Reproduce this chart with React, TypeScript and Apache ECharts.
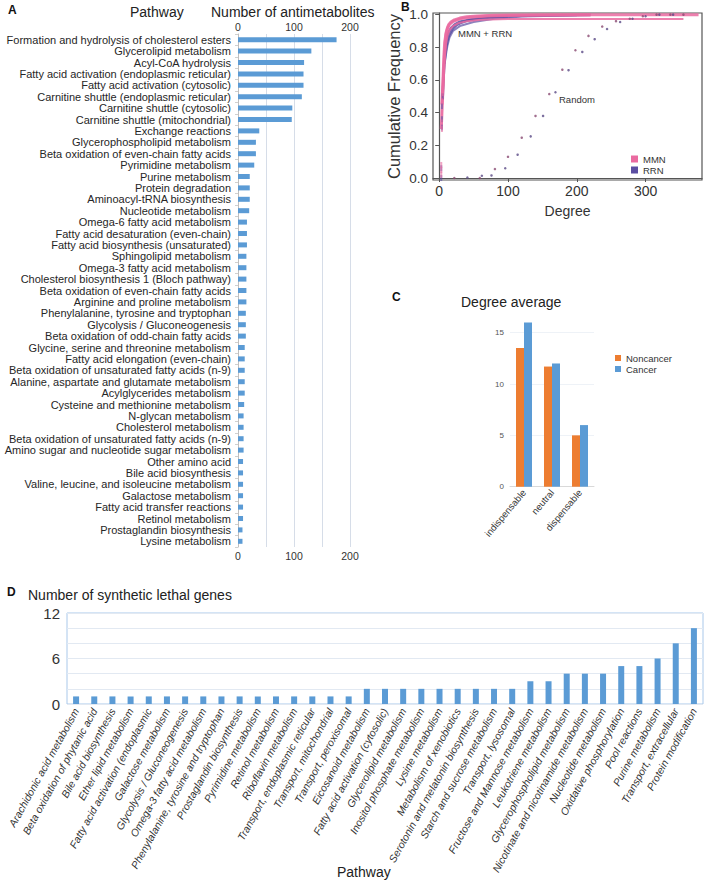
import React, { useEffect, useRef } from 'react';
import * as echarts from 'echarts';

// ---------- Panel A ----------
const aCategories = [
  'Formation and hydrolysis of cholesterol esters',
  'Glycerolipid metabolism',
  'Acyl-CoA hydrolysis',
  'Fatty acid activation (endoplasmic reticular)',
  'Fatty acid activation (cytosolic)',
  'Carnitine shuttle (endoplasmic reticular)',
  'Carnitine shuttle (cytosolic)',
  'Carnitine shuttle (mitochondrial)',
  'Exchange reactions',
  'Glycerophospholipid metabolism',
  'Beta oxidation of even-chain fatty acids',
  'Pyrimidine metabolism',
  'Purine metabolism',
  'Protein degradation',
  'Aminoacyl-tRNA biosynthesis',
  'Nucleotide metabolism',
  'Omega-6 fatty acid metabolism',
  'Fatty acid desaturation (even-chain)',
  'Fatty acid biosynthesis (unsaturated)',
  'Sphingolipid metabolism',
  'Omega-3 fatty acid metabolism',
  'Cholesterol biosynthesis 1 (Bloch pathway)',
  'Beta oxidation of even-chain fatty acids',
  'Arginine and proline metabolism',
  'Phenylalanine, tyrosine and tryptophan',
  'Glycolysis / Gluconeogenesis',
  'Beta oxidation of odd-chain fatty acids',
  'Glycine, serine and threonine metabolism',
  'Fatty acid elongation (even-chain)',
  'Beta oxidation of unsaturated fatty acids (n-9)',
  'Alanine, aspartate and glutamate metabolism',
  'Acylglycerides metabolism',
  'Cysteine and methionine metabolism',
  'N-glycan metabolism',
  'Cholesterol metabolism',
  'Beta oxidation of unsaturated fatty acids (n-9)',
  'Amino sugar and nucleotide sugar metabolism',
  'Other amino acid',
  'Bile acid biosynthesis',
  'Valine, leucine, and isoleucine metabolism',
  'Galactose metabolism',
  'Fatty acid transfer reactions',
  'Retinol metabolism',
  'Prostaglandin biosynthesis',
  'Lysine metabolism',
];
const aValues = [
  176, 131, 118, 117, 117, 114, 97, 96, 38, 32, 32, 29, 21, 21, 21, 20, 16, 16,
  16, 15, 15, 15, 15, 15, 14, 14, 14, 12, 12, 12, 12, 12, 11, 10, 10, 10, 10, 9,
  9, 9, 9, 9, 9, 8, 8,
];
const aTicks = [0, 100, 200];

// ---------- Panel B ----------
const mmn1Deg = [3, 4, 5, 6, 7, 8, 9, 10, 12, 15, 20, 30, 45, 70, 100, 150, 220, 377];
const mmn1Freq = [0.3, 0.4, 0.5, 0.6, 0.7, 0.78, 0.84, 0.88, 0.915, 0.94, 0.958, 0.974, 0.984, 0.991, 0.995, 0.998, 0.999, 1.0];
const mmn2Deg = [4, 5, 6, 7, 8, 10, 12, 14, 17, 22, 30, 40, 55, 80, 120, 220];
const mmn2Freq = [0.45, 0.55, 0.66, 0.76, 0.83, 0.89, 0.92, 0.94, 0.955, 0.968, 0.979, 0.987, 0.992, 0.996, 0.998, 1.0];
const mmn3Deg = [5, 6, 7, 8, 10, 12, 15, 20, 28, 40, 60, 100, 200, 355];
const mmn3Freq = [0.5, 0.58, 0.66, 0.73, 0.82, 0.87, 0.905, 0.93, 0.948, 0.96, 0.968, 0.973, 0.974, 0.974];
const mmnLowDeg = [3, 3, 3, 4, 4, 4, 4, 5];
const mmnLowFreq = [0.02, 0.05, 0.08, 0.3, 0.34, 0.4, 0.47, 0.52];
const rrn1Deg = [5, 6, 7, 8, 10, 12, 15, 20, 25, 30, 40, 60, 80, 110, 150, 220];
const rrn1Freq = [0.48, 0.58, 0.66, 0.72, 0.79, 0.84, 0.88, 0.915, 0.935, 0.947, 0.962, 0.977, 0.985, 0.991, 0.995, 0.998];
const rrn2Deg = [5, 6, 7, 8, 10, 13, 17, 22, 30, 45, 70, 100];
const rrn2Freq = [0.53, 0.63, 0.71, 0.77, 0.84, 0.89, 0.92, 0.94, 0.958, 0.972, 0.984, 0.99];
const rrn3Deg = [8, 10, 12, 15, 20, 30, 50, 80, 120, 200];
const rrn3Freq = [0.7, 0.76, 0.81, 0.86, 0.9, 0.93, 0.955, 0.975, 0.988, 0.996];
const rrnLowDeg = [3, 3, 4, 4, 4, 5];
const rrnLowFreq = [0.0, 0.06, 0.31, 0.36, 0.44, 0.5];
const randADeg = [22, 59, 81, 100, 120, 140, 160, 179, 198, 217, 237, 257, 277, 296, 316, 336, 355];
const randAFreq = [0.0, 0.0, 0.055, 0.13, 0.247, 0.38, 0.514, 0.663, 0.782, 0.87, 0.927, 0.96, 0.975, 0.99, 1.0, 1.0, 1.0];
const randBDeg = [41, 62, 76, 96, 114, 133, 151, 169, 188, 208, 226, 244, 263, 281, 300, 320, 340];
const randBFreq = [0.003, 0.014, 0.016, 0.06, 0.143, 0.255, 0.38, 0.525, 0.66, 0.772, 0.85, 0.912, 0.955, 0.975, 0.99, 1.0, 1.0];
const bXTicks = [0, 100, 200, 300];
const bYTicks = [0, 0.2, 0.4, 0.6, 0.8, 1.0];

// ---------- Panel C ----------
const cCategories = ['indispensable', 'neutral', 'dispensable'];
const cNoncancer = [13.5, 11.7, 5.0];
const cCancer = [16.0, 12.0, 6.0];

// ---------- Panel D ----------
const dCategories = [
  'Arachidonic acid metabolism',
  'Beta oxidation of phytanic acid',
  'Bile acid biosynthesis',
  'Ether lipid metabolism',
  'Fatty acid activation (endoplasmic',
  'Galactose metabolism',
  'Glycolysis / Gluconeogenesis',
  'Omega-3 fatty acid metabolism',
  'Phenylalanine, tyrosine and tryptophan',
  'Prostaglandin biosynthesis',
  'Pyrimidine metabolism',
  'Retinol metabolism',
  'Riboflavin metabolism',
  'Transport, endoplasmic reticular',
  'Transport, mitochondrial',
  'Transport, peroxisomal',
  'Eicosanoid metabolism',
  'Fatty acid activation (cytosolic)',
  'Glycerolipid metabolism',
  'Inositol phosphate metabolism',
  'Lysine metabolism',
  'Metabolism of xenobiotics',
  'Serotonin and melatonin biosynthesis',
  'Starch and sucrose metabolism',
  'Transport, lysosomal',
  'Fructose and Mannose metabolism',
  'Leukotriene metabolism',
  'Glycerophospholipid metabolism',
  'Nicotinate and nicotinamide metabolism',
  'Nucleotide metabolism',
  'Oxidative phosphorylation',
  'Pool reactions',
  'Purine metabolism',
  'Transport, extracellular',
  'Protein modification',
];
const dValues = [
  1, 1, 1, 1, 1, 1, 1, 1, 1, 1, 1, 1, 1, 1, 1, 1,
  2, 2, 2, 2, 2, 2, 2, 2, 2,
  3, 3, 4, 4, 4, 5, 5, 6, 8, 10,
];
const dLabelTicks = [0, 6, 12];

const zip = (xs: number[], ys: number[]) => xs.map((x, i) => [x, ys[i]]);

const FONT = '"Liberation Sans", Arial, sans-serif';
const PINK = '#ea6aa0';
const PURPLE = '#5b4ea2';
const BLUE = '#5b9bd5';
const ORANGE = '#ed7d31';

function txt(text: string, x: number, y: number, size: number, extra: any = {}) {
  return {
    type: 'text',
    x,
    y,
    silent: true,
    style: {
      text,
      fontSize: size,
      fontFamily: FONT,
      fill: '#222',
      textAlign: 'left',
      textVerticalAlign: 'middle',
      ...extra,
    },
  };
}

const lineSeries = (name: string, deg: number[], freq: number[], color: string, width: number, opacity = 0.85) => ({
  name,
  type: 'line',
  xAxisIndex: 2,
  yAxisIndex: 1,
  data: zip(deg, freq),
  showSymbol: false,
  symbol: 'none',
  lineStyle: { color, width, opacity },
  itemStyle: { color },
  z: 3,
});

const lowDots = (name: string, deg: number[], freq: number[], color: string) => ({
  name,
  type: 'scatter',
  xAxisIndex: 2,
  yAxisIndex: 1,
  data: zip(deg, freq),
  symbol: 'rect',
  symbolSize: [2, 6],
  itemStyle: { color, opacity: 0.6 },
  z: 3,
});

const option: any = {
  animation: false,
  backgroundColor: '#ffffff',
  textStyle: { fontFamily: FONT },
  grid: [
    { left: 238, top: 34, width: 112, height: 513 },
    { left: 433, top: 13, right: 6, bottom: 705, show: true, borderColor: '#555', borderWidth: 1.2 },
    { left: 510, right: 114, top: 322.4, bottom: 398.3 },
    { left: 67, right: 5, top: 613, bottom: 181, show: true, borderColor: '#a9c8ea', borderWidth: 1 },
  ],
  xAxis: [
    {
      type: 'value', gridIndex: 0, position: 'top', min: 0, max: 200, interval: 50,
      axisLine: { show: false }, axisTick: { show: false },
      axisLabel: { fontSize: 10.5, color: '#333', margin: 2, formatter: (v: number) => (aTicks.includes(v) ? String(v) : '') },
      splitLine: { show: true, lineStyle: { color: '#d6dde8', width: 1 } },
    },
    {
      type: 'value', gridIndex: 0, position: 'bottom', min: 0, max: 200, interval: 50,
      axisLine: { show: false }, axisTick: { show: false },
      axisLabel: { fontSize: 10.5, color: '#333', margin: 3, formatter: (v: number) => (aTicks.includes(v) ? String(v) : '') },
      splitLine: { show: false },
    },
    {
      type: 'value', gridIndex: 1, min: -9, max: 382,
      name: 'Degree', nameLocation: 'middle', nameGap: 24,
      nameTextStyle: { fontSize: 14, color: '#333' },
      axisLine: { show: true, lineStyle: { color: '#555', width: 1.2 } },
      axisTick: { show: true, length: 4, lineStyle: { color: '#555' }, customValues: bXTicks },
      axisLabel: { fontSize: 14, color: '#333', margin: 4, customValues: bXTicks },
      splitLine: { show: false },
    },
    {
      type: 'category', gridIndex: 2, data: cCategories,
      axisLine: { show: true, lineStyle: { color: '#d9d9d9' } },
      axisTick: { show: false },
      axisLabel: { fontSize: 9.5, color: '#333', rotate: 50, margin: 4, interval: 0 },
    },
    {
      type: 'category', gridIndex: 3, data: dCategories,
      axisLine: { show: false }, axisTick: { show: false },
      axisLabel: { fontSize: 10.5, fontStyle: 'italic', color: '#333', rotate: 61, margin: 5, interval: 0 },
    },
  ],
  yAxis: [
    {
      type: 'category', gridIndex: 0, data: aCategories, inverse: true,
      axisLine: { show: true, lineStyle: { color: '#bfbfbf' } },
      axisTick: { show: true, length: 3, lineStyle: { color: '#d0d0d0' } },
      axisLabel: { fontSize: 11, color: '#262626', margin: 7, interval: 0 },
    },
    {
      type: 'value', gridIndex: 1, min: -0.012, max: 1.01,
      name: 'Cumulative Frequency', nameLocation: 'middle', nameGap: 31,
      nameTextStyle: { fontSize: 16.5, color: '#333' },
      axisLine: { show: true, lineStyle: { color: '#555', width: 1.2 } },
      axisTick: { show: true, length: 4, lineStyle: { color: '#555' }, customValues: bYTicks },
      axisLabel: { fontSize: 13.5, color: '#333', margin: 5, customValues: bYTicks, formatter: (v: number) => v.toFixed(1) },
      splitLine: { show: false },
    },
    {
      type: 'value', gridIndex: 2, min: 0, max: 16, interval: 5,
      axisLine: { show: false }, axisTick: { show: false },
      axisLabel: { fontSize: 8, color: '#555', margin: 6, showMaxLabel: false, formatter: (v: number) => (v % 5 === 0 ? String(v) : '') },
      splitLine: { show: true, showMaxLine: false, lineStyle: { color: '#eef2f7' } },
    },
    {
      type: 'value', gridIndex: 3, min: 0, max: 12, interval: 2,
      axisLine: { show: false }, axisTick: { show: false },
      axisLabel: { fontSize: 15, color: '#333', margin: 7, formatter: (v: number) => (dLabelTicks.includes(v) ? String(v) : '') },
      splitLine: { show: true, lineStyle: { color: '#e2e9f2' } },
    },
  ],
  legend: [
    {
      data: ['MMN', 'RRN'], left: 626, top: 149, orient: 'vertical', icon: 'rect',
      itemWidth: 7, itemHeight: 7, itemGap: 1,
      textStyle: { fontSize: 9.5, color: '#333', fontFamily: FONT },
      selectedMode: false,
    },
    {
      data: ['Noncancer', 'Cancer'], left: 610, top: 348, orient: 'vertical', icon: 'rect',
      itemWidth: 6, itemHeight: 6, itemGap: 1,
      textStyle: { fontSize: 9.5, color: '#333', fontFamily: FONT },
      selectedMode: false,
    },
  ],
  series: [
    {
      name: 'Antimetabolites', type: 'bar', xAxisIndex: 0, yAxisIndex: 0,
      data: aValues, barWidth: 5, itemStyle: { color: BLUE },
    },
    lineSeries('RRN', rrn3Deg, rrn3Freq, PURPLE, 2, 0.7),
    lineSeries('RRN', rrn1Deg, rrn1Freq, PURPLE, 2.5),
    lineSeries('RRN', rrn2Deg, rrn2Freq, PURPLE, 2),
    lowDots('RRN', rrnLowDeg, rrnLowFreq, PURPLE),
    lineSeries('MMN', mmn3Deg, mmn3Freq, PINK, 2),
    lineSeries('MMN', mmn1Deg, mmn1Freq, PINK, 3),
    lineSeries('MMN', mmn2Deg, mmn2Freq, PINK, 3),
    lowDots('MMN', mmnLowDeg, mmnLowFreq, PINK),
    {
      name: 'Random A', type: 'scatter', xAxisIndex: 2, yAxisIndex: 1,
      data: zip(randADeg, randAFreq), symbolSize: 2.5, itemStyle: { color: '#8a4a72' }, z: 4,
    },
    {
      name: 'Random B', type: 'scatter', xAxisIndex: 2, yAxisIndex: 1,
      data: zip(randBDeg, randBFreq), symbolSize: 2.5, itemStyle: { color: '#5a4a86' }, z: 4,
    },
    {
      name: 'Noncancer', type: 'bar', xAxisIndex: 3, yAxisIndex: 2,
      data: cNoncancer, barWidth: 8, barGap: '0%', itemStyle: { color: ORANGE },
    },
    {
      name: 'Cancer', type: 'bar', xAxisIndex: 3, yAxisIndex: 2,
      data: cCancer, barWidth: 8, barGap: '0%', itemStyle: { color: BLUE },
    },
    {
      name: 'Synthetic lethal genes', type: 'bar', xAxisIndex: 4, yAxisIndex: 3,
      data: dValues, barWidth: 6, itemStyle: { color: BLUE },
    },
  ],
  graphic: [
    txt('A', 8, 10, 12, { fontWeight: 'bold', fill: '#111' }),
    txt('Pathway', 130, 12, 14),
    txt('Number of antimetabolites', 211, 12, 14),
    txt('B', 401, 7, 12, { fontWeight: 'bold', fill: '#111' }),
    txt('MMN + RRN', 458, 33, 9.5, { fill: '#333' }),
    txt('Random', 559, 99, 9.5, { fill: '#333' }),
    txt('C', 392, 297, 12, { fontWeight: 'bold', fill: '#111' }),
    txt('Degree average', 461, 302, 14),
    txt('D', 7, 592, 12, { fontWeight: 'bold', fill: '#111' }),
    txt('Number of synthetic lethal genes', 28, 595, 14),
    txt('Pathway', 337, 872, 14),
  ],
};

export default function App() {
  const ref = useRef<HTMLDivElement>(null);
  useEffect(() => {
    const chart = echarts.init(ref.current!, null, { renderer: 'svg' });
    chart.setOption(option);
    return () => chart.dispose();
  }, []);
  return (
    <div
      ref={ref}
      style={{ position: 'fixed', left: 0, top: 0, width: 708, height: 885, background: '#fff' }}
    />
  );
}
